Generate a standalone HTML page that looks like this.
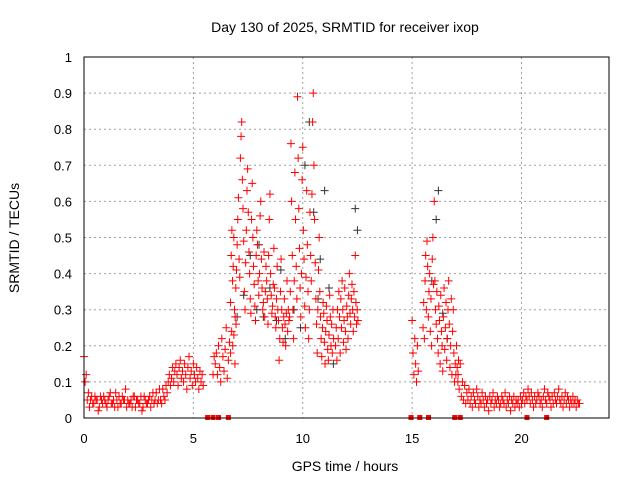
<!DOCTYPE html>
<html><head><meta charset="utf-8"><style>
body{margin:0;background:#fff;}
svg{display:block;font-family:"Liberation Sans",sans-serif;}
</style></head><body>
<svg id="chart" width="640" height="480">
<text x="345" y="32" font-size="14" text-anchor="middle">Day 130 of 2025, SRMTID for receiver ixop</text>
<text x="345" y="471" font-size="14" text-anchor="middle">GPS time / hours</text>
<text transform="translate(19,238) rotate(-90)" font-size="14" text-anchor="middle">SRMTID / TECUs</text>
<g id="grid"></g><g id="ticks"></g><g id="marks"></g>
<rect x="84" y="57" width="525" height="361" fill="none" stroke="#000" stroke-width="1"/>
</svg>
<script>
const xTicks=[0,5,10,15,20];
const yTicks=[0,0.1,0.2,0.3,0.4,0.5,0.6,0.7,0.8,0.9,1];
const yTickLabels=["0","0.1","0.2","0.3","0.4","0.5","0.6","0.7","0.8","0.9","1"];
const segStarts=[0,3.5,5.9,6.7,9.4,11.5,15.0,15.5,17.1];
const segSteps=[0.05,0.05,0.05,0.03,0.03,0.03,0.04,0.03,0.05];
const seg1=[0.17,0.10,0.12,0.05,0.07,0.03,0.05,0.06,0.04,0.04,0.06,0.05,0.05,0.02,0.03,0.06,0.05,0.04,0.06,0.05,0.04,0.03,0.05,0.06,0.07,0.04,0.04,0.05,0.03,0.07,0.05,0.03,0.06,0.04,0.04,0.06,0.05,0.05,0.08,0.03,0.05,0.04,0.04,0.05,0.03,0.06,0.06,0.03,0.05,0.05,0.04,0.04,0.06,0.02,0.03,0.06,0.05,0.04,0.04,0.05,0.06,0.03,0.05,0.07,0.04,0.05,0.07,0.04,0.05,0.08];
const seg2=[0.05,0.04,0.08,0.06,0.05,0.09,0.07,0.10,0.12,0.09,0.11,0.14,0.10,0.13,0.15,0.12,0.09,0.14,0.16,0.11,0.13,0.10,0.15,0.12,0.08,0.14,0.17,0.11,0.13,0.09,0.15,0.12,0.10,0.14,0.11,0.08,0.13,0.10,0.12,0.09];
const seg3=[0.12,0.17,0.15,0.18,0.12,0.20,0.14,0.10,0.22,0.17,0.13,0.19,0.25,0.11,0.16,0.21,0.18,0.24,0.20,0.23,0.15,0.26];
const seg4=[0.32,0.45,0.52,0.38,0.42,0.50,0.30,0.28,0.36,0.41,0.48,0.55,0.61,0.44,0.39,0.72,0.78,0.82,0.66,0.58,0.49,0.35,0.30,0.43,0.52,0.63,0.69,0.57,0.46,0.40,0.33,0.29,0.55,0.65,0.50,0.42,0.37,0.31,0.27,0.45,0.52,0.48,0.38,0.34,0.40,0.56,0.60,0.44,0.36,0.30,0.32,0.46,0.28,0.35,0.42,0.38,0.33,0.26,0.45,0.55,0.62,0.40,0.34,0.29,0.31,0.37,0.47,0.36,0.28,0.25,0.33,0.42,0.30,0.27,0.16,0.22,0.35,0.44,0.30,0.25,0.21,0.28,0.33,0.26,0.20,0.29,0.38,0.24,0.30,0.27];
const seg5=[0.28,0.35,0.76,0.60,0.45,0.30,0.22,0.38,0.68,0.55,0.42,0.33,0.89,0.72,0.58,0.47,0.36,0.28,0.40,0.66,0.75,0.52,0.44,0.31,0.25,0.39,0.63,0.48,0.35,0.22,0.30,0.57,0.45,0.38,0.62,0.82,0.90,0.70,0.55,0.43,0.33,0.26,0.18,0.30,0.41,0.50,0.35,0.28,0.22,0.17,0.25,0.32,0.29,0.21,0.15,0.24,0.31,0.27,0.19,0.16,0.23,0.34,0.28,0.20,0.26,0.18,0.30,0.22];
const seg6=[0.20,0.25,0.16,0.30,0.22,0.35,0.28,0.18,0.33,0.25,0.38,0.30,0.21,0.27,0.36,0.24,0.19,0.31,0.28,0.22,0.34,0.40,0.29,0.26,0.33,0.37,0.30,0.24,0.35,0.28,0.45,0.32,0.26,0.30,0.27];
const seg7=[0.27,0.18,0.12,0.22,0.15,0.10,0.20,0.13];
const seg8=[0.25,0.32,0.22,0.38,0.45,0.30,0.49,0.42,0.28,0.35,0.40,0.24,0.33,0.20,0.44,0.50,0.37,0.60,0.38,0.30,0.26,0.35,0.22,0.18,0.31,0.27,0.15,0.34,0.24,0.20,0.13,0.28,0.36,0.19,0.25,0.32,0.16,0.22,0.30,0.38,0.26,0.14,0.20,0.33,0.12,0.24,0.30,0.18,0.10,0.15,0.12,0.20,0.14,0.10,0.16];
const seg9=[0.12,0.08,0.15,0.06,0.10,0.05,0.09,0.04,0.07,0.05,0.08,0.04,0.06,0.03,0.07,0.05,0.04,0.08,0.06,0.03,0.05,0.04,0.07,0.05,0.03,0.06,0.04,0.05,0.02,0.06,0.04,0.05,0.07,0.03,0.05,0.04,0.06,0.05,0.03,0.04,0.06,0.05,0.04,0.07,0.03,0.05,0.04,0.06,0.02,0.05,0.04,0.06,0.03,0.05,0.04,0.05,0.03,0.06,0.04,0.05,0.07,0.04,0.06,0.05,0.08,0.06,0.04,0.07,0.05,0.03,0.06,0.04,0.05,0.07,0.06,0.04,0.05,0.03,0.06,0.08,0.05,0.04,0.07,0.06,0.05,0.03,0.06,0.04,0.07,0.05,0.04,0.06,0.08,0.05,0.04,0.06,0.03,0.05,0.07,0.04,0.06,0.05,0.03,0.05,0.04,0.06,0.04,0.05,0.03,0.05,0.04,0.04];
const zeroTimes=[5.65,5.9,6.15,6.6,14.95,15.35,15.75,16.95,17.2,20.25,21.15];
const blackTimes=[7.3,7.6,7.9,8.2,8.5,8.8,9.0,9.2,9.6,10.1,10.3,10.5,10.8,11.0,11.2,12.4,12.5,15.9,16.1,16.2,16.4,16.6,7.0,8.0,9.9,10.7,11.4];
const blackValues=[0.34,0.45,0.30,0.28,0.36,0.27,0.41,0.22,0.30,0.70,0.82,0.57,0.44,0.63,0.36,0.58,0.52,0.38,0.55,0.63,0.29,0.22,0.28,0.48,0.25,0.33,0.15];

const NS="http://www.w3.org/2000/svg";
const X=t=>84+t*(525/24), Y=v=>418-v*361;
const grid=document.getElementById('grid'),ticks=document.getElementById('ticks'),marks=document.getElementById('marks');
function mk(tag,attrs,parent){const e=document.createElementNS(NS,tag);for(const k in attrs)e.setAttribute(k,attrs[k]);parent.appendChild(e);return e;}
xTicks.forEach(t=>{
  if(t>0){const g=mk('line',{x1:X(t),x2:X(t),y1:57,y2:418,stroke:'#a0a0a0','stroke-dasharray':'2,3'},grid);
  
  }
  const l=mk('text',{x:X(t),y:443,'font-size':13,'text-anchor':'middle'},ticks);l.textContent=t;
  
  
});
yTicks.forEach((v,i)=>{
  if(v>0&&v<1){const g=mk('line',{x1:84,x2:609,y1:Y(v),y2:Y(v),stroke:'#a0a0a0','stroke-dasharray':'2,3'},grid);
  
  }
  const l=mk('text',{x:72,y:Y(v)+5,'font-size':13,'text-anchor':'end'},ticks);l.textContent=yTickLabels[i];
  
  
});
function cross(t,v,color,name){
  const x=X(t),y=Y(v);
  const p=mk('path',{d:`M${x-4},${y}H${x+4}M${x},${y-4}V${y+4}`,stroke:color,'stroke-width':1},marks);
  
  
}
blackTimes.forEach((t,i)=>cross(t,blackValues[i],'#333','black-point'));
[seg1,seg2,seg3,seg4,seg5,seg6,seg7,seg8,seg9].forEach((s,k)=>{
  s.forEach((v,i)=>cross(segStarts[k]+i*segSteps[k],v,'#ff0000','srmtid-point'));
});
zeroTimes.forEach(t=>{
  const r=mk('rect',{x:X(t)-2.5,y:415,width:5,height:5,fill:'#ff0000'},marks);
  
  
});
</script>
</body></html>
